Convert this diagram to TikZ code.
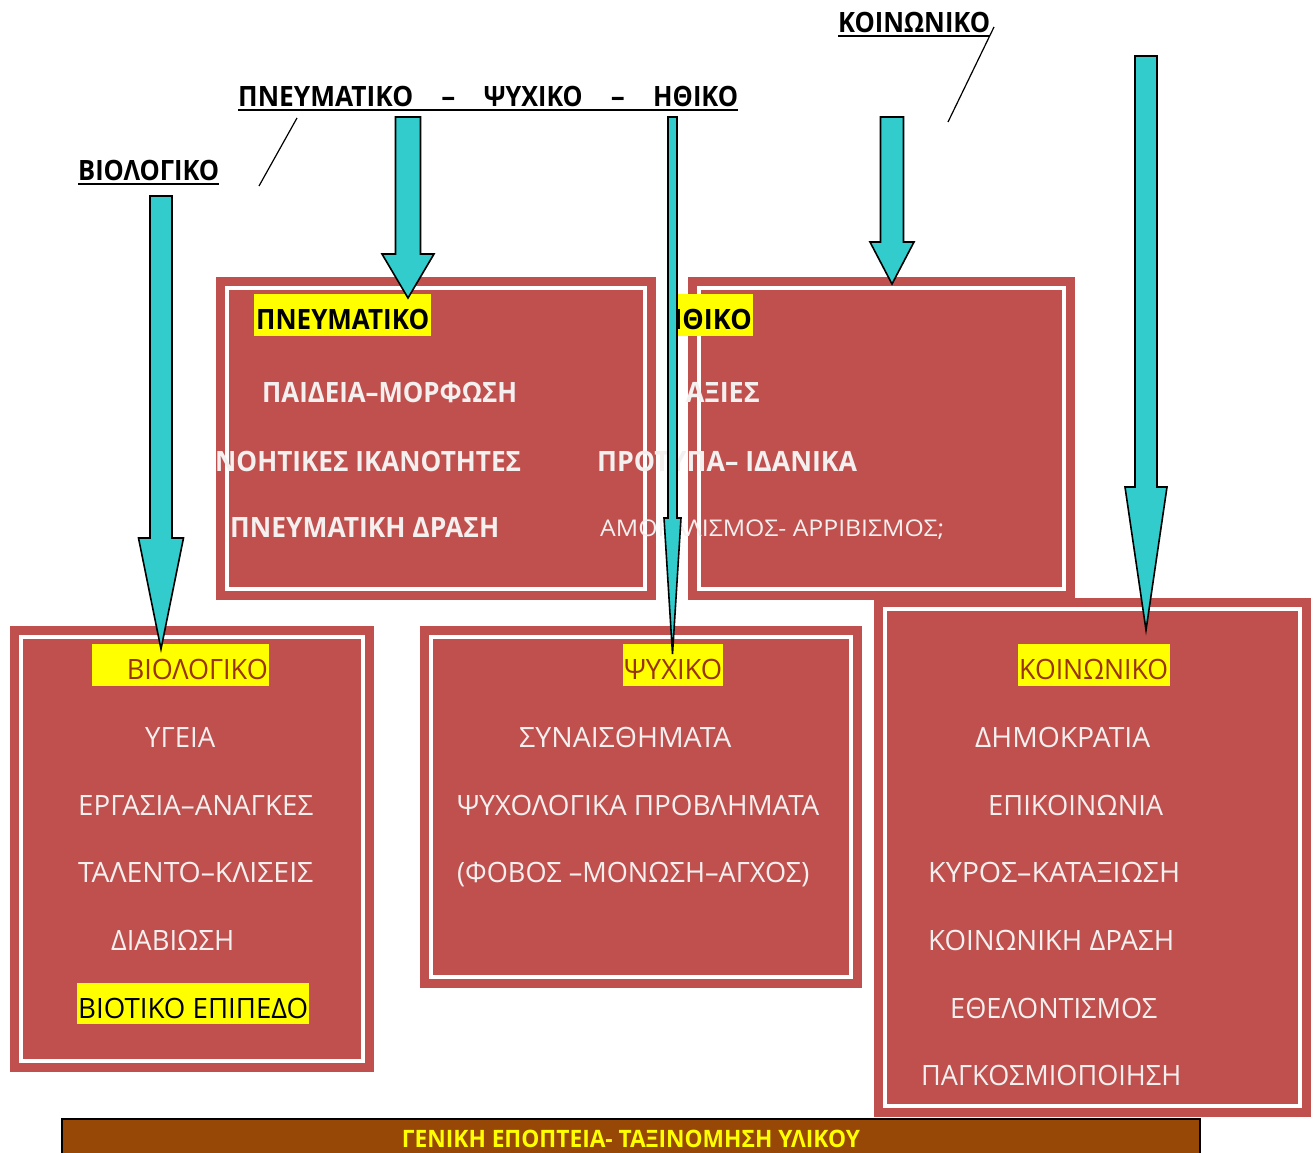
\documentclass[tikz,border=0pt]{standalone}
\usepackage{fontspec}
\setmainfont{Open Sans}
\usepackage{graphicx}
\definecolor{boxred}{HTML}{C0504D}
\definecolor{arrcyan}{HTML}{33CCCC}
\definecolor{hlyellow}{HTML}{FFFF00}
\definecolor{lblbrown}{HTML}{993300}
\definecolor{barbrown}{HTML}{974706}
\definecolor{txtwhite}{HTML}{F4F0F0}
\newcommand\fw[2]{\resizebox{#1pt}{\height}{#2}}
\newcommand\blkarrow[6]{%
  \filldraw[arrowshape] (#1-#3,#2) -- (#1+#3,#2) -- (#1+#3,#4) -- (#1+#5,#4) -- (#1,#6) -- (#1-#5,#4) -- (#1-#3,#4) -- cycle;}
\tikzset{
  framebox/.style={fill=boxred, draw=boxred, double=white, line width=9pt, double distance=4.5pt, inner sep=0pt, outer sep=0pt, anchor=north west},
  wt/.style={text=txtwhite, inner sep=0pt, anchor=base west, font=\fontsize{28}{30}\selectfont},
  wtb/.style={wt, font=\fontsize{28}{30}\selectfont\bfseries},
  hl/.style={fill=hlyellow, inner sep=0pt, outer sep=0pt, anchor=north west, minimum height=42pt},
  hltxt/.style={inner sep=0pt, anchor=base west, font=\fontsize{28}{30}\selectfont},
  toplbl/.style={inner sep=0pt, anchor=base west, text=black, font=\fontsize{28}{30}\selectfont\bfseries},
  uline/.style={line width=2pt, black},
  arrowshape/.style={fill=arrcyan, draw=black, line width=1.6pt, line join=miter},
  thinline/.style={line width=1.2pt, black}
}
\begin{document}
\begin{tikzpicture}[x=1pt,y=-1pt]
\useasboundingbox (0,0) rectangle (1314,1153);
% boxes
\node[framebox, minimum width=418pt, minimum height=301pt] (boxP) at (227,288) {};
\node[framebox, minimum width=365pt, minimum height=301pt] (boxH) at (699,288) {};
\node[framebox, minimum width=342pt, minimum height=424pt] (boxB) at (21,637) {};
\node[framebox, minimum width=420pt, minimum height=340pt] (boxS) at (431,637) {};
\node[framebox, minimum width=415pt, minimum height=497pt] (boxK) at (885,609) {};
% box P texts
\node[hl, minimum width=177pt] (hlP) at (254,294) {};
\node[hltxt, font=\fontsize{28}{30}\selectfont\bfseries] (tP) at (256,329) {\fw{173}{ΠΝΕΥΜΑΤΙΚΟ}};
\node[wtb] (p1) at (262,402) {\fw{255}{ΠΑΙΔΕΙΑ–ΜΟΡΦΩΣΗ}};
\node[wtb] (p2) at (215,471) {\fw{306}{ΝΟΗΤΙΚΕΣ ΙΚΑΝΟΤΗΤΕΣ}};
\node[wtb] (p3) at (230,537) {\fw{269}{ΠΝΕΥΜΑΤΙΚΗ ΔΡΑΣΗ}};
% box H texts
\node[hl, minimum width=81pt] (hlH) at (672,294) {};
\begin{scope}
\clip (674,290) rectangle (760,340);
\node[hltxt, font=\fontsize{28}{30}\selectfont\bfseries, anchor=base east] (tH) at (752,329) {\fw{90}{ΗΘΙΚΟ}};
\end{scope}
\node[wtb, anchor=base east] (h1) at (760,402) {\fw{74}{ΑΞΙΕΣ}};
\node[wtb] (h2) at (597,471) {\fw{260}{ΠΡΟΤΥΠΑ– ΙΔΑΝΙΚΑ}};
\node[wt, font=\fontsize{23}{25}\selectfont] (h3) at (600,536) {\fw{344}{ΑΜΟΡΑΛΙΣΜΟΣ- ΑΡΡΙΒΙΣΜΟΣ;}};
% box B texts
\node[hl, minimum width=177pt] (hlB) at (92,644) {};
\node[hltxt, text=lblbrown, anchor=base east] (tB) at (268,679) {\fw{141}{ΒΙΟΛΟΓΙΚΟ}};
\node[wt] (b1) at (145,747) {\fw{70}{ΥΓΕΙΑ}};
\node[wt] (b2) at (78,815) {\fw{235}{ΕΡΓΑΣΙΑ–ΑΝΑΓΚΕΣ}};
\node[wt] (b3) at (78,882) {\fw{235}{ΤΑΛΕΝΤΟ–ΚΛΙΣΕΙΣ}};
\node[wt] (b4) at (111,950) {\fw{123}{ΔΙΑΒΙΩΣΗ}};
\node[hl, minimum width=232pt, minimum height=41pt] (hlB2) at (77,983) {};
\node[hltxt, text=black] (b5) at (78,1018) {\fw{230}{ΒΙΟΤΙΚΟ ΕΠΙΠΕΔΟ}};
% box S texts
\node[hl, minimum width=100pt] (hlS) at (623,644) {};
\node[hltxt, text=lblbrown] (tS) at (624,679) {\fw{98}{ΨΥΧΙΚΟ}};
\node[wt] (s1) at (519,747) {\fw{212}{ΣΥΝΑΙΣΘΗΜΑΤΑ}};
\node[wt] (s2) at (457,815) {\fw{362}{ΨΥΧΟΛΟΓΙΚΑ ΠΡΟΒΛΗΜΑΤΑ}};
\node[wt] (s3) at (457,882) {\fw{352}{(ΦΟΒΟΣ –ΜΟΝΩΣΗ–ΑΓΧΟΣ)}};
% box K texts
\node[hl, minimum width=152pt] (hlK) at (1018,644) {};
\node[hltxt, text=lblbrown] (tK) at (1019,679) {\fw{149}{ΚΟΙΝΩΝΙΚΟ}};
\node[wt] (k1) at (975,747) {\fw{175}{ΔΗΜΟΚΡΑΤΙΑ}};
\node[wt] (k2) at (988,815) {\fw{175}{ΕΠΙΚΟΙΝΩΝΙΑ}};
\node[wt] (k3) at (928,882) {\fw{252}{ΚΥΡΟΣ–ΚΑΤΑΞΙΩΣΗ}};
\node[wt] (k4) at (928,950) {\fw{246}{ΚΟΙΝΩΝΙΚΗ ΔΡΑΣΗ}};
\node[wt] (k5) at (950,1018) {\fw{207}{ΕΘΕΛΟΝΤΙΣΜΟΣ}};
\node[wt] (k6) at (921,1085) {\fw{260}{ΠΑΓΚΟΣΜΙΟΠΟΙΗΣΗ}};
% top labels
\node[toplbl] (lblB) at (78,180) {\fw{141}{ΒΙΟΛΟΓΙΚΟ}};
\draw[uline] ([yshift=-4pt]lblB.base west) -- ([yshift=-4pt]lblB.base east);
\node[toplbl] (lblM) at (238,107) {\hbox to 500pt{\fw{175}{ΠΝΕΥΜΑΤΙΚΟ}\hfill –\hfill\fw{99}{ΨΥΧΙΚΟ}\hfill –\hfill\fw{85}{ΗΘΙΚΟ}}};
\draw[uline] ([yshift=-3pt]lblM.base west) -- ([yshift=-3pt]lblM.base east);
\node[toplbl] (lblK) at (838,33) {\fw{152}{ΚΟΙΝΩΝΙΚΟ}};
\draw[uline] ([yshift=-3pt]lblK.base west) -- ([yshift=-3pt]lblK.base east);
% pointer lines
\coordinate (lnA1) at (297,118);
\coordinate (lnA2) at (259,186);
\draw[thinline] (lnA1) -- (lnA2);
\coordinate (lnB1) at (994,27);
\coordinate (lnB2) at (948,122);
\draw[thinline] (lnB1) -- (lnB2);
% arrows
\blkarrow{161}{196}{11}{538}{22.5}{649}
\blkarrow{408}{117}{12.5}{254}{26}{298}
\blkarrow{672.5}{117}{4.5}{518}{8.5}{654}
\blkarrow{892}{117}{11.5}{242}{22}{284}
\blkarrow{1146}{56}{11}{487}{21}{630}
% bottom bar
\node[fill=barbrown, draw=black, line width=2pt, inner sep=0pt, outer sep=0pt, anchor=north west, minimum width=1138pt, minimum height=45pt] (bar) at (62,1119) {};
\node[inner sep=0pt, anchor=base, text=hlyellow, font=\fontsize{24}{26}\selectfont\bfseries] (barT) at (631,1147) {\fw{458}{ΓΕΝΙΚΗ ΕΠΟΠΤΕΙΑ- ΤΑΞΙΝΟΜΗΣΗ ΥΛΙΚΟΥ}};
\end{tikzpicture}
\end{document}
